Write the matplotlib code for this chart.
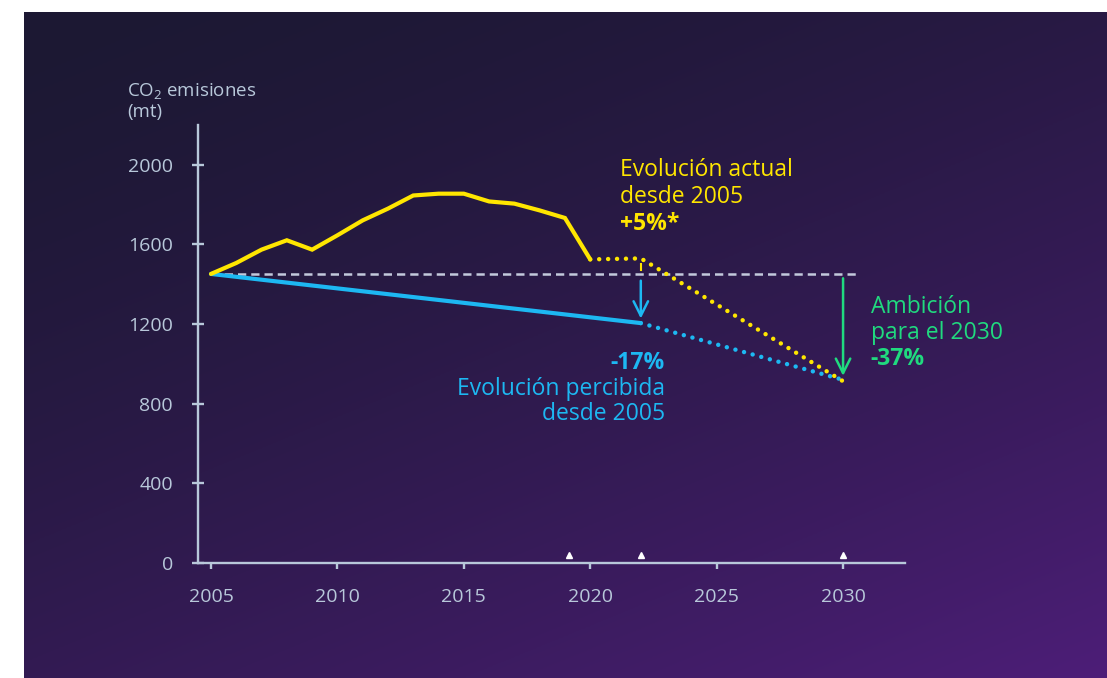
import numpy as np
import matplotlib
matplotlib.use("Agg")
import matplotlib.pyplot as plt
from matplotlib.colors import to_rgb

plt.rcParams['font.family'] = ['Open Sans', 'DejaVu Sans']
plt.rcParams['mathtext.default'] = 'regular'

# ---------------- data ----------------
years_actual = [2005, 2006, 2007, 2008, 2009, 2010, 2011, 2012, 2013, 2014,
                2015, 2016, 2017, 2018, 2019, 2020]
emis_actual = [1452, 1507, 1574, 1621, 1574, 1646, 1721, 1780, 1846, 1855,
               1855, 1816, 1805, 1771, 1733, 1525]
years_actual_proj = [2020, 2022, 2030]
emis_actual_proj = [1525, 1530, 913]

years_perceived = [2005, 2022]
emis_perceived = [1452, 1205]
years_perceived_proj = [2022, 2030]
emis_perceived_proj = [1205, 920]

baseline_years = [2005, 2030.5]
baseline_value = 1452

marker_years = [2019.15, 2022, 2030]

yticks = [0, 400, 800, 1200, 1600, 2000]
xticks = [2005, 2010, 2015, 2020, 2025, 2030]

# ---------------- colours ----------------
YELLOW = '#ffe600'
BLUE = '#1db8f2'
GREEN = '#20da7f'
AXIS = '#b8c8da'
DASH = '#c3c9dc'

W, H = 1107, 678
fig = plt.figure(figsize=(W / 100, H / 100), dpi=100, facecolor='white')

# gradient background (white strip on top and left)
bg = fig.add_axes([24 / W, 0, 1 - 24 / W, 1 - 12 / H])
bg.set_axis_off()
gx, gy = np.meshgrid(np.linspace(0, 1, 400), np.linspace(0, 1, 300))
t = (0.4 * gx + 0.6 * gy) ** 1.5
c0 = np.array(to_rgb('#1c1833'))
c1 = np.array(to_rgb('#4d1e78'))
img = c0[None, None, :] * (1 - t[..., None]) + c1[None, None, :] * t[..., None]
bg.imshow(img, aspect='auto', extent=[0, 1, 1, 0])

# main axes
ax = fig.add_axes([198 / W, 1 - 563 / H, (905 - 198) / W, (563 - 125) / H])
ax.patch.set_alpha(0)
ax.set_xlim(2004.486, 2032.45)
ax.set_ylim(0, 2200)

for s in ['top', 'right']:
    ax.spines[s].set_visible(False)
for s in ['left', 'bottom']:
    ax.spines[s].set_color(AXIS)
    ax.spines[s].set_linewidth(1.7)

ax.set_yticks(yticks)
ax.set_xticks(xticks)
ax.tick_params(axis='y', direction='inout', length=9, width=1.7, color=AXIS,
               labelcolor=AXIS, labelsize=14, pad=13.5)
ax.tick_params(axis='x', direction='out', length=4, width=1.7, color=AXIS,
               labelcolor=AXIS, labelsize=14, pad=14)

# baseline
ax.plot(baseline_years, [baseline_value] * 2, color=DASH, lw=1.8,
        dashes=(3.3, 2.0), zorder=2)

# perceived evolution
ax.plot(years_perceived, emis_perceived, color=BLUE, lw=3, solid_capstyle='round', zorder=3)
ax.plot(years_perceived_proj, emis_perceived_proj, color=BLUE, lw=3.2,
        dashes=(0.01, 2.0), dash_capstyle='round', zorder=3)

# actual evolution
ax.plot(years_actual, emis_actual, color=YELLOW, lw=3, solid_capstyle='round',
        solid_joinstyle='miter', zorder=4)
ax.plot(years_actual_proj, emis_actual_proj, color=YELLOW, lw=3.2,
        dashes=(0.01, 2.0), dash_capstyle='round', zorder=4)
ax.plot([2022, 2022], [1500, 1470], color=YELLOW, lw=1.5, zorder=4)

# arrows
ax.annotate('', xy=(2022, 1228), xytext=(2022, 1418),
            arrowprops=dict(arrowstyle='->', color=BLUE, lw=1.8,
                            mutation_scale=26, shrinkA=0, shrinkB=0))
ax.annotate('', xy=(2030, 940), xytext=(2030, 1430),
            arrowprops=dict(arrowstyle='->', color=GREEN, lw=1.8,
                            mutation_scale=26, shrinkA=0, shrinkB=0))

# small markers on the axis
ax.plot(marker_years, [42] * len(marker_years), ls='none', marker='^',
        ms=5, color='white', clip_on=False, zorder=5)

fs = 16.5
# yellow annotation
ax.text(2021.18, 1945, 'Evolución actual', color=YELLOW, fontsize=fs, va='baseline')
ax.text(2021.18, 1809, 'desde 2005', color=YELLOW, fontsize=fs, va='baseline')
ax.text(2021.18, 1673, '+5%*', color=YELLOW, fontsize=fs, va='baseline', fontweight='bold')

# blue annotation
ax.text(2022.95, 973, '-17%', color=BLUE, fontsize=fs, va='baseline', ha='right', fontweight='bold')
ax.text(2022.95, 844, 'Evolución percibida', color=BLUE, fontsize=fs, va='baseline', ha='right')
ax.text(2022.95, 719, 'desde 2005', color=BLUE, fontsize=fs, va='baseline', ha='right')

# green annotation
ax.text(2031.09, 1258, 'Ambición', color=GREEN, fontsize=fs, va='baseline', clip_on=False)
ax.text(2031.09, 1126, 'para el 2030', color=GREEN, fontsize=fs, va='baseline', clip_on=False)
ax.text(2031.09, 995, '-37%', color=GREEN, fontsize=fs, va='baseline', fontweight='bold', clip_on=False)

# y axis title
fig.text(127 / W, 1 - 96 / H, 'CO$_2$ emisiones', color=AXIS, fontsize=13.5, va='baseline')
fig.text(127 / W, 1 - 117 / H, '(mt)', color=AXIS, fontsize=13.5, va='baseline')

fig.savefig('out.png', dpi=100, facecolor=fig.get_facecolor())
